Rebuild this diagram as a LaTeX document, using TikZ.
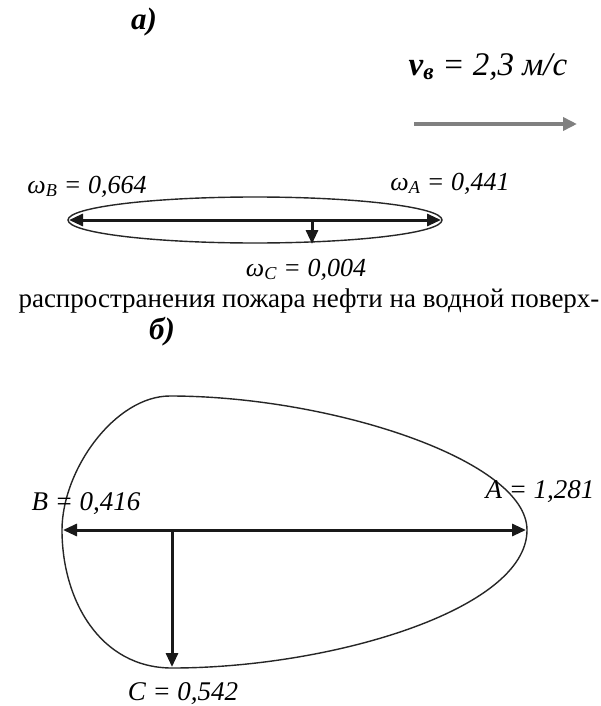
\documentclass[tikz,border=0pt]{standalone}
\usepackage{fontspec}
\setmainfont{Liberation Serif}
\usetikzlibrary{arrows.meta}
\begin{document}
\begin{tikzpicture}[x=1pt,y=-1pt,
  lbl/.style={font=\fontsize{26}{30}\selectfont\itshape, inner sep=0pt, anchor=base},
  blbl/.style={font=\fontsize{27}{30}\selectfont\itshape, inner sep=0pt, anchor=base},
  ttl/.style={font=\fontsize{31}{34}\selectfont\bfseries\itshape, inner sep=0pt},
  outline/.style={line width=1.4pt, black!85},
  arr/.style={line width=3pt, black!90, -{Triangle[length=14pt,width=12pt]}},
  darr/.style={line width=3pt, black!90, {Triangle[length=14pt,width=12pt]}-{Triangle[length=14pt,width=12pt]}},
  garr/.style={line width=3.5pt, black!50, -{Triangle[length=14pt,width=13pt]}}]
\useasboundingbox (0,0) rectangle (600,706);
\fill[white] (0,0) rectangle (600,706);

% ---- part a
\node[ttl] (ta) at (144,22) {а)};
\node[font=\fontsize{33}{36}\selectfont\itshape, inner sep=0pt, anchor=base] (vel) at (488,76) {\textbf{v\textsubscript{в}} = 2,3 м/с};
\coordinate (g1) at (414,124);
\coordinate (g2) at (577,124);
\draw[garr] (g1) -- (g2);

\draw[outline] (255,220) ellipse [x radius=187, y radius=23];
\coordinate (aB) at (69,220);
\coordinate (aA) at (441,220);
\coordinate (aC0) at (312,220);
\coordinate (aC) at (312,244);
\draw[darr] (aB) -- (aA);
\draw[arr] (aC0) -- (aC);
\node[lbl] (wB) at (87,193) {ω\textsubscript{B} = 0,664};
\node[lbl] (wA) at (450,190) {ω\textsubscript{A} = 0,441};
\node[lbl] (wC) at (306,276) {ω\textsubscript{C} = 0,004};

\node[font=\fontsize{27}{30}\selectfont, inner sep=0pt, anchor=base] (txt) at (309,307) {распространения пожара нефти на водной поверх-};

% ---- part b
\node[ttl] (tb) at (162,332) {б)};
\draw[outline] (62,530) .. controls (62,470) and (115,396) .. (170,396)
  .. controls (330,396) and (527,460) .. (527,530)
  .. controls (527,610) and (330,668) .. (172,668)
  .. controls (100,668) and (62,600) .. (62,530) -- cycle;
\coordinate (bB) at (63,530);
\coordinate (bA) at (526,530);
\coordinate (bC0) at (172,530);
\coordinate (bC) at (172,667);
\draw[darr] (bB) -- (bA);
\draw[arr] (bC0) -- (bC);
\node[blbl] (lB) at (86,510) {B = 0,416};
\node[blbl] (lA) at (540,498) {A = 1,281};
\node[blbl] (lC) at (183,700) {C = 0,542};
\end{tikzpicture}
\end{document}
